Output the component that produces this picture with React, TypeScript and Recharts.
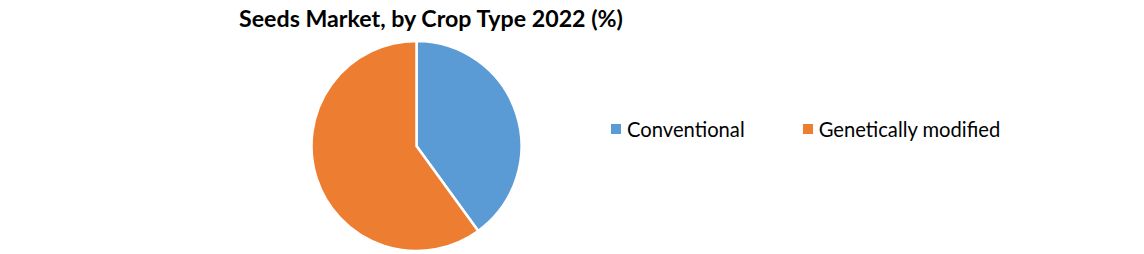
import { Legend, Pie, PieChart, Cell } from "recharts";

const cropTypes = ["Conventional", "Genetically modified"];
const shares = [40, 60];
const sliceColors = ["#5b9bd5", "#ed7d31"];

const data = cropTypes.map((name, i) => ({ name, value: shares[i] }));

const FONT = "Lato, 'Open Sans', sans-serif";

function renderLegend() {
  return (
    <div style={{ display: "flex", fontFamily: FONT, fontSize: 20.2, color: "#000" }}>
      {cropTypes.map((name, i) => (
        <div key={name} style={{ display: "flex", alignItems: "center", marginRight: i === 0 ? 58 : 0 }}>
          <span
            style={{
              display: "inline-block",
              width: 10,
              height: 10,
              background: sliceColors[i],
              marginRight: 6,
            }}
          />
          <span>{name}</span>
        </div>
      ))}
    </div>
  );
}

export default function App() {
  return (
    <div style={{ position: "absolute", left: 0, top: 0, width: 1144, height: 254, background: "#fff" }}>
      <style>{"body{margin:0}"}</style>
      <div
        style={{
          position: "absolute",
          left: 0,
          width: 862,
          top: 4,
          textAlign: "center",
          fontFamily: FONT,
          fontWeight: 700,
          fontSize: 23.2,
          color: "#000",
          zIndex: 1,
        }}
      >
        Seeds Market, by Crop Type 2022 (%)
      </div>
      <PieChart width={1144} height={254} margin={{ top: 0, right: 0, bottom: 0, left: 0 }}>
        <Pie
          data={data}
          dataKey="value"
          nameKey="name"
          cx={416.5}
          cy={146}
          outerRadius={105}
          startAngle={90}
          endAngle={-270}
          stroke="#fff"
          strokeWidth={2.5}
          isAnimationActive={false}
        >
          {data.map((d, i) => (
            <Cell key={d.name} fill={sliceColors[i]} />
          ))}
        </Pie>
        <Legend
          content={renderLegend}
          wrapperStyle={{ position: "absolute", left: 611, top: 117, width: "auto" }}
        />
      </PieChart>
    </div>
  );
}
